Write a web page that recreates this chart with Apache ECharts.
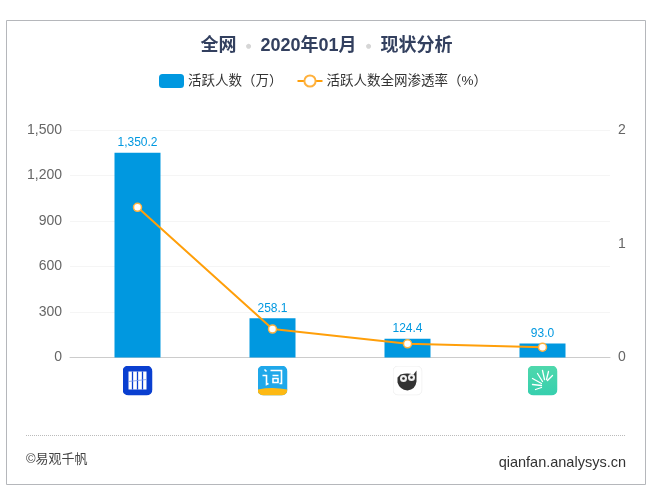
<!DOCTYPE html>
<html><head><meta charset="utf-8">
<style>html,body{margin:0;padding:0;background:#fff}#c{width:653px;height:494px}</style>
<script src="https://cdn.jsdelivr.net/npm/echarts@6/dist/echarts.min.js"></script>
</head><body><div id="c"></div>
<script>
const categories = ['icon0','icon1','icon2','icon3'];
const activeUsers = [1350.2, 258.1, 124.4, 93.0];
const penetration = [1.32, 0.25, 0.12, 0.09];
const leftTicks = [0,300,600,900,1200,1500];
const rightTicks = [0,1,2];
const seriesNames = ['活跃人数（万）','活跃人数全网渗透率（%）'];
const svg = s => 'data:image/svg+xml;charset=utf-8,' + encodeURIComponent('<svg xmlns="http://www.w3.org/2000/svg" width="90" height="90" viewBox="0 0 30 30">'+s+'</svg>');
const icons = {
 icon0: svg('<rect width="30" height="30" rx="6" fill="#0a3fd0"/><rect x="6" y="6" width="18" height="18" fill="#fff"/><path d="M10 6v18M15 6v18M20 6v18" stroke="#0a3fd0" stroke-width="1.300"/><path d="M6 16l18-2" stroke="#7f9ae8" stroke-width=".8"/>'),
 icon1: svg('<rect width="30" height="30" rx="6" fill="#1fa8ea"/><path d="M0 24q15-3 30 0v0a6 6 0 0 1-6 6H6a6 6 0 0 1-6-6z" fill="#fdb913"/><path d="M7 4l2 2M5 10h4v9l2-1M13 5h11v13l-2 0M15 10h6M15.500 13h5v4h-5z" fill="none" stroke="#fff" stroke-width="1.600"/>'),
 icon2: svg('<rect x=".5" y=".5" width="29" height="29" rx="5" fill="#fff" stroke="#f0f0f0"/><path d="M5 12l3-3q7-2 13 0l3-4v11q-1 8-9 9-8-1-10-8z" fill="#333"/><circle cx="11" cy="13" r="3.500" fill="#eee"/><circle cx="19" cy="12" r="3.500" fill="#eee"/><circle cx="11" cy="13" r="1.300" fill="#222"/><circle cx="19" cy="12" r="1.300" fill="#222"/>'),
 icon3: svg('<defs><linearGradient id="g" x1="0" y1="0" x2="0" y2="1"><stop offset="0" stop-color="#4fd8ac"/><stop offset="1" stop-color="#36cfae"/></linearGradient></defs><rect width="30" height="30" rx="6" fill="url(#g)"/><path d="M8 24l6-2M5 19l9 1M5 13l9 5M10 8l5 8M15 5l2 9M21 6l-2 8M25 10l-5 5" stroke="#fff" stroke-width="1.300" stroke-linecap="round"/>')
};
const rich = {};
categories.forEach(k => rich[k] = {width:30,height:30,backgroundColor:{image:icons[k]}});
const FONT = '"Liberation Sans","Noto Sans CJK SC",sans-serif';
const chart = echarts.init(document.getElementById('c'), null, {renderer:'canvas'});
chart.setOption({
  animation:false,
  backgroundColor:'#fff',
  textStyle:{fontFamily:FONT},
  title:[{
    text:'{t|全网}{d|●}{t|2020年01月}{d|●}{t|现状分析}',
    left:'center', top:32,
    textStyle:{rich:{t:{fontSize:18,fontWeight:'bold',color:'#33405f',fontFamily:FONT},d:{fontSize:6.500,color:'#d6d6d6',width:24,align:'center',fontFamily:'"DejaVu Sans"'}}}
  },{
    text:'©易观千帆', left:21, top:448, textStyle:{fontSize:13,fontWeight:'normal',color:'#444',fontFamily:FONT}
  },{
    text:'qianfan.analysys.cn', right:22, top:451, textStyle:{fontSize:14.500,fontWeight:'normal',color:'#333',fontFamily:FONT}
  }],
  graphic:[
    {type:'rect',z:-1,silent:true,shape:{x:6.500,y:20.500,width:639,height:464},style:{fill:'#fff',stroke:'#b5b7bb',lineWidth:1}},
    {type:'line',silent:true,shape:{x1:26,y1:435.500,x2:626,y2:435.500},style:{stroke:'#bbb',lineWidth:1,lineDash:[1,1]}}
  ],
  legend:{
    top:69,left:154,itemGap:14,itemWidth:25,itemHeight:14,
    textStyle:{fontSize:13.500,color:'#333',padding:[0,0,0,-1]},
    data:[{name:seriesNames[0],icon:'roundRect'},{name:seriesNames[1]}]
  },
  grid:{left:70,right:43,top:130,height:227.500,containLabel:false},
  xAxis:{type:'category',data:categories,
    axisLine:{lineStyle:{color:'#ccc'}},axisTick:{show:false},
    axisLabel:{margin:8,interval:0,rich,formatter:v=>'{'+v+'|}'}},
  yAxis:[{type:'value',min:0,max:1500,interval:300,
    axisLine:{show:false},axisTick:{show:false},
    splitLine:{lineStyle:{color:'#f5f5f5'}},
    axisLabel:{fontSize:14,color:'#666',margin:8,formatter:v=>v.toLocaleString('en-US')}},
   {type:'value',min:0,max:2,interval:1,
    axisLine:{show:false},axisTick:{show:false},splitLine:{show:false},
    axisLabel:{fontSize:14,color:'#666',margin:8}}],
  series:[{
    name:seriesNames[0],type:'bar',barWidth:46,data:activeUsers,
    itemStyle:{color:'#0098e0'},
    label:{show:true,position:'top',distance:4,fontSize:12,color:'#0098e0',
      formatter:p=>p.value.toLocaleString('en-US',{minimumFractionDigits:1,maximumFractionDigits:1})}
  },{
    name:seriesNames[1],type:'line',yAxisIndex:1,data:penetration,
    symbol:'circle',symbolSize:8,showSymbol:true,
    lineStyle:{color:'#ff9f0a',width:2},
    itemStyle:{color:'#fff',borderColor:'#ffb13d',borderWidth:1.500}
  }]
});
</script></body></html>
